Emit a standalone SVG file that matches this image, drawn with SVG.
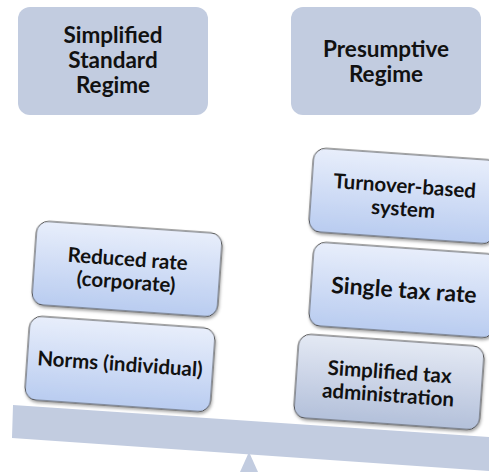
<svg xmlns="http://www.w3.org/2000/svg" width="489" height="472" viewBox="0 0 489 472">
<defs>
<linearGradient id="g" x1="0" y1="0" x2="0" y2="1">
<stop offset="0" stop-color="#E8EEFB"/>
<stop offset="1" stop-color="#B9CCF0"/>
</linearGradient>
<linearGradient id="g2" x1="0" y1="0" x2="0" y2="1">
<stop offset="0" stop-color="#E4E9F4"/>
<stop offset="1" stop-color="#B3C0DA"/>
</linearGradient>
<filter id="sh" x="-10%" y="-10%" width="120%" height="130%">
<feDropShadow dx="1" dy="2" stdDeviation="1.5" flood-color="#000" flood-opacity="0.35"/>
</filter>
</defs>
<style>
.top{fill:#C2CCE0}
.box{fill:url(#g);stroke:#4a4a4a;stroke-width:1;filter:url(#sh)}
.box2{fill:url(#g2);stroke:#4a4a4a;stroke-width:1;filter:url(#sh)}
text{font-family:Lato,"Liberation Sans",sans-serif;font-weight:bold;fill:#111;text-anchor:middle}
.t22{font-size:22.5px}
.t20{font-size:20.5px}
.t23{font-size:23px}
.beam{fill:#C2CCE0}
</style>
<g id="fulcrum"><polygon class="beam" points="249,452 240,472 258,472"/></g>
<g id="beam"><polygon class="beam" points="13,405 489,437 489,471 12,438"/></g>
<g id="simplified-standard-regime">
<rect class="top" x="18" y="7" width="190" height="108" rx="12"/>
<text class="t22" x="113" y="43">Simplified</text>
<text class="t22" x="113" y="68">Standard</text>
<text class="t22" x="113" y="93">Regime</text>
</g>
<g id="presumptive-regime">
<rect class="top" x="291" y="7" width="190" height="108" rx="12"/>
<text class="t22" x="386" y="57">Presumptive</text>
<text class="t22" x="386" y="82">Regime</text>
</g>
<g id="norms" transform="translate(120,364) rotate(4)">
<rect class="box" x="-93" y="-42" width="186" height="84" rx="12"/>
<text class="t20" x="0" y="7">Norms (individual)</text>
</g>
<g id="reduced-rate" transform="translate(127,269) rotate(4)">
<rect class="box" x="-93" y="-42" width="186" height="84" rx="12"/>
<text class="t20" x="0" y="-3">Reduced rate</text>
<text class="t20" x="0" y="20">(corporate)</text>
</g>
<g id="simplified-tax-administration" transform="translate(389,382) rotate(4)">
<rect class="box2" x="-93" y="-42" width="186" height="84" rx="12"/>
<text class="t20" x="0" y="-3">Simplified tax</text>
<text class="t20" x="0" y="20">administration</text>
</g>
<g id="single-tax-rate" transform="translate(404,290) rotate(4)">
<rect class="box" x="-93" y="-42" width="186" height="84" rx="12"/>
<text class="t23" x="0" y="8">Single tax rate</text>
</g>
<g id="turnover-based-system" transform="translate(404,196) rotate(4)">
<rect class="box" x="-93" y="-42" width="186" height="84" rx="12"/>
<text class="t20" x="0" y="-3">Turnover-based</text>
<text class="t20" x="0" y="20">system</text>
</g>
<g id="connectors"/>
</svg>
